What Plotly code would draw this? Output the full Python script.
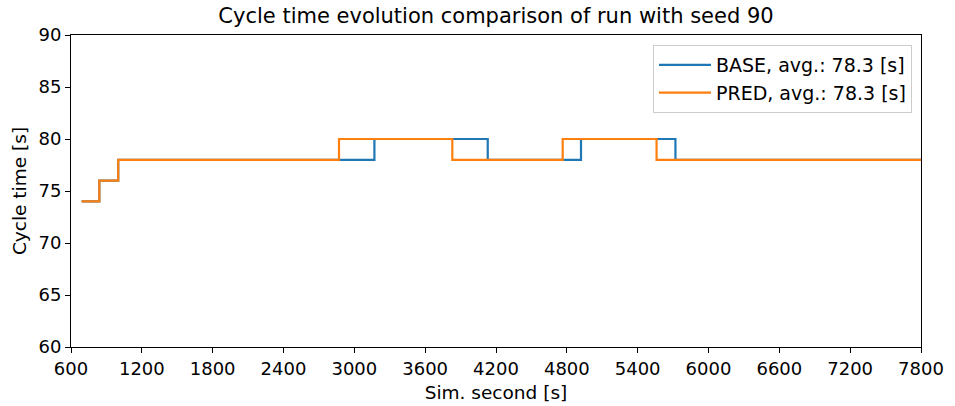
import plotly.graph_objects as go

base_x = [690, 840, 1000, 3170, 4130, 4920, 5720, 7800]
base_y = [74, 76, 78, 80, 78, 80, 78, 78]
pred_x = [690, 840, 1000, 2870, 3830, 4765, 5560, 7800]
pred_y = [74, 76, 78, 80, 78, 80, 78, 78]
x_ticks = list(range(600, 7801, 600))
y_ticks = list(range(60, 91, 5))

fig = go.Figure()
fig.add_trace(go.Scatter(x=base_x, y=base_y, mode="lines", line_shape="hv",
                         line=dict(color="#1f77b4", width=2.2),
                         name="BASE, avg.: 78.3 [s]"))
fig.add_trace(go.Scatter(x=pred_x, y=pred_y, mode="lines", line_shape="hv",
                         line=dict(color="#ff7f0e", width=2.2),
                         name="PRED, avg.: 78.3 [s]"))

axis_common = dict(showline=True, linecolor="black", linewidth=1, mirror=True,
                   ticks="outside", ticklen=5, tickcolor="black", showgrid=False,
                   zeroline=False, automargin=False,
                   tickfont=dict(size=18, color="black"))
fig.update_layout(
    width=955, height=406,
    margin=dict(l=71, r=34, t=35, b=59),
    paper_bgcolor="white", plot_bgcolor="white",
    font=dict(family="DejaVu Sans", color="black", size=18),
    title=dict(text="Cycle time evolution comparison of run with seed 90",
               x=(71 + 921) / 2 / 955, xanchor="center", y=0.962, yanchor="middle",
               font=dict(size=21)),
    xaxis=dict(range=[600, 7800], tickvals=x_ticks,
               title=dict(text="Sim. second [s]", standoff=8, font=dict(size=18.5)),
               **axis_common),
    yaxis=dict(range=[60, 90], tickvals=y_ticks,
               title=dict(text="Cycle time [s]", standoff=7, font=dict(size=18.5)),
               **axis_common),
    legend=dict(x=0.9894, y=0.968, xanchor="right", yanchor="top",
                bordercolor="#cccccc", borderwidth=1, bgcolor="white",
                itemwidth=52, font=dict(size=19)),
    showlegend=True,
)
fig.write_html("out.html")
